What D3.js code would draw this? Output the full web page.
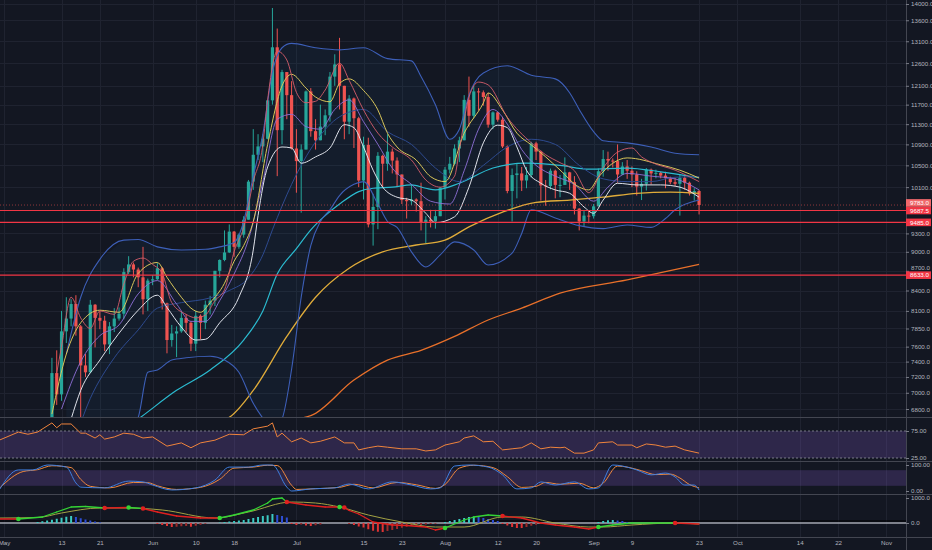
<!DOCTYPE html>
<html>
<head>
<meta charset="utf-8">
<script src="https://cdn.jsdelivr.net/npm/d3@7/dist/d3.min.js"></script>
<style>
  html, body { margin: 0; padding: 0; background: #131722; }
  svg { display: block; }
  text { font-family: "Liberation Sans", Arial, sans-serif; }
</style>
</head>
<body>
<div id="container"></div>
<script>
//-----------------------------[data]CANDLES------------------------------//
// daily candles, 11 May .. 23 Sep 2019 (one value per day, month per row)
const firstCandle = "05-11";
const lastCandle = "09-23";

const opens = [
  6350, 7250, 6980, 7810, 7990, 8200, 7880, 7350, 7260, 8190, 8000, 7960, 7630, 7880, 7990, 8060, 8680, 8800, 8720, 8600, 8270,
  8550, 8570, 8740, 8210, 7690, 7780, 7810, 8000, 7930, 7640, 8030, 7930, 8190, 8250, 8700, 8870, 8990, 9330, 9080, 9280, 9530, 10200, 10700, 10860, 11010, 11790, 12960, 11180, 12400, 11900,
  10820, 10580, 10800, 11980, 11160, 10980, 11250, 11480, 12300, 12570, 12100, 11350, 11830, 11420, 10220, 10890, 9450, 9750, 10680, 10530, 10760, 10590, 10330, 9870, 9850, 9880, 9850, 9480, 9530, 9500, 9590,
  10090, 10420, 10530, 10820, 10980, 11800, 11470, 11980, 11960, 11860, 11290, 11540, 11390, 10860, 10030, 10320, 10350, 10220, 10320, 10920, 10760, 10130, 10120, 10400, 10140, 10140, 10370, 10190, 9720, 9500, 9600,
  9590, 9760, 10390, 10620, 10590, 10580, 10330, 10480, 10400, 10330, 10110, 10160, 10420, 10350, 10360, 10310, 10260, 10190, 10160, 10270, 10180, 9990, 10030
];
const highs = [
  7450, 7550, 8100, 8300, 8270, 8330, 7900, 7500, 8260, 8200, 8100, 8030, 7940, 8140, 8150, 8740, 8930, 8830, 8750, 9080, 8580,
  8630, 8820, 8760, 8220, 7900, 7880, 8100, 8050, 7950, 8100, 8050, 8250, 8320, 8700, 8880, 9350, 9450, 9340, 9300, 9590, 10230, 11200, 11100, 11100, 11800, 13900, 13400, 12450, 12400, 12200,
  11200, 10900, 12000, 12050, 11400, 11700, 11600, 12400, 12800, 13180, 12100, 11900, 11850, 11450, 11050, 11030, 9980, 10750, 10700, 11100, 10820, 10650, 10330, 9910, 10150, 9900, 10180, 9590, 9700, 9700, 10100,
  10470, 10660, 10900, 11050, 11900, 12300, 12100, 12050, 12000, 11950, 11560, 11550, 11450, 10880, 10440, 10530, 10470, 10470, 10950, 10950, 10780, 10230, 10440, 10420, 10320, 10650, 10380, 10300, 9730, 9680, 9680,
  9800, 10440, 10790, 10760, 10630, 10900, 10560, 10600, 10480, 10390, 10250, 10450, 10440, 10420, 10380, 10380, 10290, 10270, 10320, 10300, 10200, 10080, 10050
];
const lows = [
  6340, 6850, 6900, 7650, 7880, 7750, 6600, 7200, 7250, 7590, 7840, 7540, 7500, 7800, 7960, 7980, 8650, 8600, 8450, 8050, 8100,
  8480, 8560, 8120, 7510, 7600, 7460, 7790, 7800, 7540, 7540, 7700, 7840, 8050, 8170, 8600, 8850, 8980, 8920, 9050, 9230, 9530, 10050, 10600, 10560, 11000, 11700, 10300, 10900, 11400, 10800,
  10000, 9650, 10800, 11050, 10800, 10980, 11080, 11350, 12100, 11600, 11000, 11100, 10830, 10100, 9880, 9400, 9100, 9370, 10100, 10400, 10350, 10100, 9800, 9550, 9780, 9670, 9350, 9140, 9400, 9380, 9590,
  9880, 10350, 10500, 10560, 10980, 11250, 11420, 11580, 11680, 11230, 11200, 11350, 10830, 9990, 9500, 9900, 10030, 10080, 10270, 10600, 9860, 9770, 10060, 9900, 9920, 10140, 10050, 9620, 9350, 9420, 9470,
  9550, 9760, 10290, 10400, 10460, 10180, 10320, 10250, 10100, 9950, 9870, 10040, 10150, 10260, 10260, 10080, 10150, 10120, 9600, 10050, 9950, 9860, 9620
];
const closes = [
  7250, 6980, 7810, 7990, 8200, 7880, 7350, 7260, 8190, 8000, 7960, 7630, 7880, 7990, 8060, 8680, 8800, 8720, 8600, 8270, 8550,
  8570, 8740, 8210, 7690, 7780, 7810, 8000, 7930, 7640, 8030, 7930, 8190, 8250, 8700, 8870, 8990, 9330, 9080, 9280, 9530, 10200, 10700, 10860, 11010, 11790, 12960, 11180, 12400, 11900, 10820,
  10580, 10800, 11980, 11160, 10980, 11250, 11480, 12300, 12570, 12100, 11350, 11830, 11420, 10220, 10890, 9450, 9750, 10680, 10530, 10760, 10590, 10330, 9870, 9850, 9880, 9850, 9480, 9530, 9500, 9590, 10090,
  10420, 10530, 10820, 10980, 11800, 11470, 11980, 11960, 11860, 11290, 11540, 11390, 10860, 10030, 10320, 10350, 10220, 10320, 10920, 10760, 10130, 10120, 10400, 10140, 10140, 10370, 10190, 9720, 9500, 9600, 9590,
  9760, 10390, 10620, 10590, 10580, 10330, 10480, 10400, 10330, 10110, 10160, 10420, 10350, 10360, 10310, 10260, 10190, 10160, 10270, 10180, 9990, 10030, 9783
];

//-----------------------------[data]OVERLAYS------------------------------//
// [day, price]
const bbUpper = [["05-14",7500],["05-17",8300],["05-21",8880],["05-26",9190],["05-29",9200],["06-02",9080],["06-07",9030],["06-12",9040],["06-15",9080],["06-18",9150],["06-20",9500],["06-22",10300],["06-24",11100],["06-26",12400],["06-28",12950],["06-30",13050],["07-05",12950],["07-10",12900],["07-15",12950],["07-20",12700],["07-25",12650],["07-27",12300],["07-30",11700],["08-02",11000],["08-04",11200],["08-06",11900],["08-09",12380],["08-14",12540],["08-19",12330],["08-24",12250],["08-27",11950],["08-29",11600],["09-01",11150],["09-03",10970],["09-08",10930],["09-13",10850],["09-18",10730],["09-23",10700]];
const bbLower = [["05-14",5600],["05-19",6000],["05-24",6350],["05-29",6700],["05-31",7260],["06-02",7290],["06-05",7420],["06-08",7450],["06-13",7470],["06-16",7420],["06-19",7260],["06-22",6870],["06-24",6690],["06-26",6550],["06-28",6680],["06-30",7300],["07-02",8300],["07-04",9100],["07-06",9500],["07-08",9700],["07-10",9950],["07-13",10150],["07-15",10200],["07-18",9800],["07-20",9500],["07-22",9400],["07-25",9000],["07-28",8760],["07-31",8950],["08-03",9160],["08-07",9030],["08-10",8790],["08-15",8980],["08-17",9300],["08-19",9700],["08-24",9560],["08-29",9430],["09-03",9380],["09-08",9440],["09-13",9400],["09-16",9550],["09-18",9700],["09-23",9870]];
const bbBasis = [["05-11",6100],["05-16",6500],["05-19",6930],["05-24",7450],["05-29",7830],["06-02",8140],["06-07",8220],["06-13",8290],["06-17",8400],["06-21",8590],["06-24",8950],["06-26",9360],["06-30",10150],["07-05",10950],["07-10",11450],["07-15",11600],["07-20",11150],["07-25",10900],["07-30",10450],["08-04",10200],["08-09",10500],["08-14",10850],["08-19",11000],["08-24",10900],["08-29",10500],["09-03",10250],["09-08",10200],["09-13",10200],["09-18",10280],["09-23",10290]];
const fastLine = [["05-12",7250],["05-13",7600],["05-15",8300],["05-17",8000],["05-19",7850],["05-21",8100],["05-24",8050],["05-26",8500],["05-28",8850],["05-30",8900],["06-01",8800],["06-03",8660],["06-05",8220],["06-08",8050],["06-10",8000],["06-12",8040],["06-14",8250],["06-16",8410],["06-18",9000],["06-20",9400],["06-22",10200],["06-24",10900],["06-25",11800],["06-27",12870],["06-29",12670],["07-01",11960],["07-03",11740],["07-05",11770],["07-07",12010],["07-10",12600],["07-12",12220],["07-15",11590],["07-18",11120],["07-21",10850],["07-25",10600],["07-28",10230],["07-31",10100],["08-03",10300],["08-04",10800],["08-06",11860],["08-08",12180],["08-10",12120],["08-14",11440],["08-19",10930],["08-22",10700],["08-25",10550],["08-28",10400],["08-31",10000],["09-03",10450],["09-06",10750],["09-09",10830],["09-11",10660],["09-13",10560],["09-18",10410],["09-23",10200]];
const yellowLine = [["05-11",6740],["05-14",7500],["05-17",7930],["05-21",8110],["05-25",8080],["05-29",8660],["06-02",8830],["06-04",8600],["06-07",8300],["06-09",8140],["06-11",8080],["06-13",8220],["06-16",8510],["06-18",8850],["06-20",9100],["06-22",9500],["06-25",10900],["06-28",12100],["06-30",12350],["07-03",12050],["07-05",11860],["07-08",11760],["07-10",12150],["07-12",12250],["07-15",12000],["07-18",11590],["07-20",11120],["07-22",10850],["07-26",10600],["07-29",10290],["08-01",10200],["08-05",11120],["08-09",11735],["08-10",11945],["08-13",11590],["08-16",11120],["08-19",10890],["08-22",10660],["08-25",10413],["08-29",10100],["08-31",10050],["09-02",10280],["09-05",10540],["09-08",10640],["09-15",10510],["09-19",10410],["09-23",10265]];
const whiteLine = [["05-15",6680],["05-17",7030],["05-21",7420],["05-26",7870],["05-29",8110],["06-02",8330],["06-04",8150],["06-07",7870],["06-10",7690],["06-12",7700],["06-15",7930],["06-19",8300],["06-22",9030],["06-23",9600],["06-25",10470],["06-28",10850],["06-30",10830],["07-02",10540],["07-05",10660],["07-08",10830],["07-11",11290],["07-13",11230],["07-15",10850],["07-17",10410],["07-19",10100],["07-22",9920],["07-25",9870],["07-28",9640],["07-30",9480],["08-03",9580],["08-06",10100],["08-09",10930],["08-12",11280],["08-14",11230],["08-16",10850],["08-18",10410],["08-21",10170],["08-24",10050],["08-27",9990],["08-30",9750],["09-01",9640],["09-03",9870],["09-06",10170],["09-10",10140],["09-15",10140],["09-19",10100],["09-23",9920]];
const purpleLine = [["05-13",6800],["05-17",7400],["05-21",7750],["05-25",7900],["05-29",8350],["06-02",8550],["06-06",8200],["06-09",7950],["06-12",7950],["06-15",8250],["06-18",8650],["06-21",9200],["06-24",10200],["06-27",11400],["06-30",11500],["07-03",11250],["07-06",11200],["07-09",11600],["07-12",11800],["07-15",11350],["07-18",10900],["07-21",10450],["07-25",10150],["07-29",9850],["08-02",9800],["08-05",10400],["08-08",11200],["08-11",11600],["08-14",11300],["08-17",10800],["08-20",10500],["08-24",10300],["08-28",10150],["09-01",9850],["09-04",10100],["09-08",10350],["09-13",10300],["09-18",10250],["09-23",10050]];
const cyanLine = [["05-27",6600],["05-29",6680],["06-06",7030],["06-13",7290],["06-20",7690],["06-24",8100],["06-27",8650],["07-01",9050],["07-04",9360],["07-07",9600],["07-10",9800],["07-14",10020],["07-17",10080],["07-21",10100],["07-25",10140],["07-28",10080],["07-30",10050],["08-04",10170],["08-11",10450],["08-18",10540],["08-25",10500],["08-31",10430],["09-08",10450],["09-15",10380],["09-23",10270]];
const goldLine = [["06-15",6650],["06-17",6700],["06-22",7030],["06-29",7740],["07-05",8300],["07-12",8740],["07-19",9000],["07-26",9110],["08-01",9190],["08-06",9410],["08-13",9660],["08-20",9830],["08-27",9870],["09-03",9920],["09-10",9990],["09-17",10010],["09-23",9990]];
const orangeLine = [["07-02",6690],["07-04",6720],["07-13",7160],["07-20",7420],["07-27",7550],["08-03",7740],["08-10",7970],["08-17",8140],["08-25",8360],["09-08",8560],["09-23",8800]];

// horizontal levels drawn on the chart
const levelPrices = [9687.5, 9485, 8633];

//-----------------------------[data]OSCILLATORS------------------------------//
const rsi = [["04-30",58],["05-04",73],["05-06",69],["05-08",73],["05-11",90],["05-12",81],["05-13",88],["05-15",88],["05-17",71],["05-18",71],["05-20",62],["05-21",68],["05-22",60],["05-24",64],["05-26",71],["05-28",69],["05-30",62],["06-01",64],["06-04",47],["06-07",53],["06-09",44],["06-11",53],["06-14",58],["06-17",69],["06-20",68],["06-22",79],["06-25",84],["06-26",90],["06-27",64],["06-28",71],["06-30",55],["07-02",62],["07-04",53],["07-06",56],["07-09",64],["07-11",53],["07-13",53],["07-14",40],["07-16",44],["07-18",47],["07-20",45],["07-23",42],["07-26",42],["07-28",38],["07-30",40],["08-01",49],["08-04",55],["08-05",62],["08-07",66],["08-09",55],["08-11",56],["08-13",40],["08-15",42],["08-17",44],["08-19",53],["08-21",42],["08-23",45],["08-25",44],["08-26",45],["08-28",34],["08-30",34],["09-01",40],["09-02",53],["09-05",55],["09-06",49],["09-09",49],["09-10",44],["09-12",51],["09-14",49],["09-16",45],["09-18",47],["09-20",40],["09-23",34]];
const stochK = [["04-30",4],["05-04",81],["05-07",81],["05-10",100],["05-14",92],["05-16",31],["05-17",15],["05-22",12],["05-27",38],["05-30",35],["06-01",23],["06-05",4],["06-10",12],["06-14",42],["06-17",92],["06-21",92],["06-24",100],["06-26",100],["06-29",15],["06-30",0],["07-04",8],["07-09",12],["07-12",27],["07-16",8],["07-21",35],["07-25",23],["07-29",8],["07-31",12],["08-03",96],["08-06",100],["08-10",92],["08-13",62],["08-16",8],["08-19",12],["08-21",35],["08-24",23],["08-28",35],["08-31",8],["09-02",12],["09-05",100],["09-07",96],["09-10",81],["09-13",62],["09-16",69],["09-18",54],["09-20",23],["09-22",23],["09-23",4]];
const stochD = [["04-30",10],["05-05",75],["05-08",82],["05-11",97],["05-15",90],["05-17",45],["05-19",18],["05-23",12],["05-28",33],["05-31",32],["06-02",20],["06-06",6],["06-11",14],["06-15",45],["06-18",88],["06-22",92],["06-25",99],["06-27",98],["06-30",22],["07-01",6],["07-05",9],["07-10",14],["07-13",26],["07-17",12],["07-22",33],["07-26",24],["07-30",10],["08-01",25],["08-04",88],["08-07",99],["08-11",90],["08-14",55],["08-17",14],["08-20",18],["08-22",33],["08-25",26],["08-29",30],["09-01",12],["09-03",30],["09-06",96],["09-08",92],["09-11",78],["09-14",63],["09-17",65],["09-19",50],["09-21",25],["09-23",12]];
const macdLine = [["04-30",160],["05-09",240],["05-12",440],["05-15",640],["05-18",660],["06-02",440],["06-06",280],["06-11",200],["06-18",320],["06-22",520],["06-25",800],["06-26",960],["06-28",1000],["07-03",720],["07-07",640],["07-12",500],["07-14",360],["07-17",40],["07-21",-80],["07-24",-100],["07-28",-160],["07-30",-280],["08-05",120],["08-07",240],["08-10",320],["08-17",200],["08-21",0],["08-24",-80],["08-28",-160],["08-31",-240],["09-05",-80],["09-09",0],["09-13",0],["09-23",-40]];
const signalLine = [["04-30",200],["05-08",220],["05-13",400],["05-21",600],["05-27",600],["06-03",520],["06-14",200],["06-21",440],["06-30",840],["07-05",800],["07-10",640],["07-16",320],["07-23",40],["07-30",-160],["08-05",-160],["08-13",240],["08-17",240],["08-24",0],["08-31",-160],["09-03",-160],["09-09",-80],["09-18",0],["09-23",-40]];
const crossDays = ["05-04","05-22","05-27","05-30","06-15","06-29","07-10","07-11","08-01","08-13","09-02","09-18"];
const crossValues = [160, 600, 620, 580, 200, 840, 640, 620, -200, 280, -160, 0];
const crossKinds = ["up","down","up","down","up","down","up","down","up","down","up","down"];
const macdHist = [["05-08",40],["05-09",70],["05-10",100],["05-11",130],["05-12",170],["05-13",210],["05-14",250],["05-15",280],["05-16",240],["05-17",190],["05-18",140],["05-19",100],["05-20",60],["05-21",30],
  ["06-02",-40],["06-03",-80],["06-04",-120],["06-05",-160],["06-06",-150],["06-07",-130],["06-08",-120],["06-09",-150],["06-10",-110],["06-11",-70],["06-12",-30],
  ["06-15",20],["06-16",40],["06-17",60],["06-18",80],["06-19",100],["06-20",120],["06-21",160],["06-22",200],["06-23",240],["06-24",280],["06-25",310],["06-26",360],["06-27",320],["06-28",280],["06-29",220],
  ["06-30",-40],["07-01",-80],["07-02",-60],["07-03",-100],["07-04",-120],["07-05",-90],["07-06",-60],
  ["07-12",-40],["07-13",-80],["07-14",-140],["07-15",-180],["07-16",-250],["07-17",-310],["07-18",-350],["07-19",-360],["07-20",-320],["07-21",-280],["07-22",-240],["07-23",-190],["07-24",-150],["07-25",-120],["07-26",-100],["07-27",-80],["07-28",-60],["07-29",-40],["07-30",-30],
  ["08-01",40],["08-02",80],["08-03",120],["08-04",160],["08-05",200],["08-06",240],["08-07",260],["08-08",240],["08-09",200],["08-10",160],["08-11",120],["08-12",80],
  ["08-13",-40],["08-14",-100],["08-15",-160],["08-16",-200],["08-17",-200],["08-18",-160],["08-19",-110],["08-20",-70],["08-21",-40],
  ["09-02",40],["09-03",80],["09-04",110],["09-05",120],["09-06",100],["09-07",80],["09-08",40]];

//-----------------------------[data]AXES------------------------------//
const priceTicks = [14000, 13600, 13100, 12600, 12100, 11700, 11300, 10900, 10500, 10100, 9700, 9300, 9000, 8700, 8400, 8100, 7850, 7600, 7400, 7200, 7000, 6800];
const xTickDays = ["05-01","05-13","05-21","06-01","06-10","06-18","07-01","07-15","07-23","08-01","08-12","08-20","09-01","09-09","09-23","10-01","10-14","10-22","11-01"];
const xTickLabels = ["May","13","21","Jun","10","18","Jul","15","23","Aug","12","20","Sep","9","23","Oct","14","22","Nov"];

//-----------------------------[prep]SVG------------------------------//
const width = 932;
const height = 550;
const plotRight = 906;
const panels = { main: [0, 417], rsi: [417, 461], stoch: [461, 494], macd: [494, 537] };
const fontSize = 6.2;

const parseDay = d3.timeParse("%Y-%m-%d");
const day = s => parseDay("2019-" + s);
const toPoints = arr => arr.map(p => ({ date: day(p[0]), value: p[1] }));

const svg = d3.select("#container").append("svg")
  .attr("width", width)
  .attr("height", height);

svg.append("rect").attr("width", width).attr("height", height).attr("fill", "#131722");

const defs = svg.append("defs");
Object.keys(panels).forEach(k => {
  const [y0, y1] = panels[k];
  defs.append("clipPath").attr("id", "plot-" + k).append("rect")
    .attr("x", 0).attr("y", y0).attr("width", plotRight).attr("height", y1 - y0);
  defs.append("clipPath").attr("id", "axis-" + k).append("rect")
    .attr("x", plotRight).attr("y", y0).attr("width", width - plotRight).attr("height", y1 - y0);
});

//----------------------------[prep]SCALES-----------------------------//
const x = d3.scaleTime().domain([day("05-01"), day("11-01")]).range([4, 886]);
const y = d3.scaleLog().domain([6704, 14100]).range([417, 0]);
const yRsi = d3.scaleLinear().domain([0, 100]).range([471.5, 417.5]);
const yStoch = d3.scaleLinear().domain([0, 100]).range([491, 465]);
const yMacd = d3.scaleLinear().domain([0, 1000]).range([523, 498]);

const candleDays = d3.timeDay.range(day(firstCandle), d3.timeDay.offset(day(lastCandle), 1));
const candles = candleDays.map((d, i) => ({
  date: d, open: opens[i], high: highs[i], low: lows[i], close: closes[i]
}));

const upColor = "#26a69a";
const downColor = "#ef5350";

function drawLine(g, data, yScale, color, w, curve) {
  const line = d3.line()
    .x(d => x(d.date))
    .y(d => yScale(d.value))
    .curve(curve || d3.curveMonotoneX);
  g.append("path")
    .attr("d", line(toPoints(data)))
    .attr("fill", "none")
    .attr("stroke", color)
    .attr("stroke-width", w);
}

//-----------------------------[drawing]GRID------------------------------//
const grid = svg.append("g").attr("shape-rendering", "crispEdges");
grid.selectAll(".vgrid").data(xTickDays).enter().append("line")
  .attr("x1", d => Math.round(x(day(d))) + 0.5).attr("x2", d => Math.round(x(day(d))) + 0.5)
  .attr("y1", 0).attr("y2", 537)
  .attr("stroke", "#1f2330");
grid.append("g").attr("clip-path", "url(#plot-main)")
  .selectAll(".hgrid").data(priceTicks).enter().append("line")
  .attr("x1", 0).attr("x2", plotRight)
  .attr("y1", d => Math.round(y(d)) + 0.5).attr("y2", d => Math.round(y(d)) + 0.5)
  .attr("stroke", "#1f2330");

//-----------------------------[drawing]MAIN------------------------------//
const main = svg.append("g").attr("clip-path", "url(#plot-main)");

// bollinger cloud
const cloud = toPoints(bbUpper).concat(toPoints(bbLower).reverse());
main.append("path")
  .attr("d", d3.line().x(d => x(d.date)).y(d => y(d.value))(cloud) + "Z")
  .attr("fill", "#2196f3")
  .attr("fill-opacity", 0.05);

// candles
const candleG = main.append("g").selectAll("g").data(candles).enter().append("g");
candleG.append("line")
  .attr("x1", d => x(d.date)).attr("x2", d => x(d.date))
  .attr("y1", d => y(d.high)).attr("y2", d => y(d.low))
  .attr("stroke", d => d.close >= d.open ? upColor : downColor)
  .attr("stroke-width", 1);
candleG.append("rect")
  .attr("x", d => x(d.date) - 1.6)
  .attr("width", 3.2)
  .attr("y", d => y(Math.max(d.open, d.close)))
  .attr("height", d => Math.max(1, Math.abs(y(d.open) - y(d.close))))
  .attr("fill", d => d.close >= d.open ? upColor : downColor);

// moving averages and bands
drawLine(main, orangeLine, y, "#e8702a", 1.3);
drawLine(main, goldLine, y, "#e0ac3a", 1.3);
drawLine(main, cyanLine, y, "#2bbbd0", 1.2);
drawLine(main, bbUpper, y, "#3d5fb8", 1.1);
drawLine(main, bbLower, y, "#3d5fb8", 1.1);
drawLine(main, bbBasis, y, "#2d4a8f", 1);
drawLine(main, purpleLine, y, "#8f6fd8", 0.9);
drawLine(main, whiteLine, y, "#e0e3eb", 1);
drawLine(main, yellowLine, y, "#d9c65a", 1);
drawLine(main, fastLine, y, "#d65d6b", 0.9);

// horizontal levels and last price
main.selectAll(".level").data(levelPrices).enter().append("line")
  .attr("x1", 0).attr("x2", plotRight)
  .attr("y1", d => y(d)).attr("y2", d => y(d))
  .attr("stroke", "#f23645").attr("stroke-width", 1.2);
main.append("line")
  .attr("x1", 0).attr("x2", plotRight)
  .attr("y1", y(closes[closes.length - 1])).attr("y2", y(closes[closes.length - 1]))
  .attr("stroke", downColor).attr("stroke-width", 0.8)
  .attr("stroke-dasharray", "1,2").attr("opacity", 0.7);

//-----------------------------[drawing]RSI------------------------------//
const rsiG = svg.append("g").attr("clip-path", "url(#plot-rsi)");
rsiG.append("rect")
  .attr("x", 0).attr("width", plotRight)
  .attr("y", yRsi(75)).attr("height", yRsi(25) - yRsi(75))
  .attr("fill", "#7e57c2").attr("fill-opacity", 0.25);
rsiG.selectAll(".band").data([75, 25]).enter().append("line")
  .attr("x1", 0).attr("x2", plotRight)
  .attr("y1", d => yRsi(d)).attr("y2", d => yRsi(d))
  .attr("stroke", "#787b86").attr("stroke-dasharray", "2,2");
drawLine(rsiG, rsi, yRsi, "#f0843c", 1, d3.curveLinear);

//-----------------------------[drawing]STOCH------------------------------//
const stochG = svg.append("g").attr("clip-path", "url(#plot-stoch)");
stochG.append("rect")
  .attr("x", 0).attr("width", plotRight)
  .attr("y", yStoch(80)).attr("height", yStoch(20) - yStoch(80))
  .attr("fill", "#7e57c2").attr("fill-opacity", 0.25);
drawLine(stochG, stochD, yStoch, "#f0883e", 1, d3.curveMonotoneX);
drawLine(stochG, stochK, yStoch, "#3f7fe0", 1, d3.curveMonotoneX);

//-----------------------------[drawing]MACD------------------------------//
const macdG = svg.append("g").attr("clip-path", "url(#plot-macd)");
macdG.append("line")
  .attr("x1", 0).attr("x2", plotRight)
  .attr("y1", yMacd(80)).attr("y2", yMacd(80))
  .attr("stroke", "#000").attr("stroke-width", 1);
macdG.append("line")
  .attr("x1", 0).attr("x2", plotRight)
  .attr("y1", yMacd(0)).attr("y2", yMacd(0))
  .attr("stroke", "#a3a6af").attr("stroke-width", 1.4);

const histPts = toPoints(macdHist);
macdG.selectAll(".hist").data(histPts).enter().append("rect")
  .attr("x", d => x(d.date) - 1)
  .attr("width", 2)
  .attr("y", d => Math.min(yMacd(d.value), yMacd(0)))
  .attr("height", d => Math.abs(yMacd(d.value) - yMacd(0)))
  .attr("fill", (d, i) => {
    const prev = i > 0 ? histPts[i - 1].value : 0;
    if (d.value >= 0) return d.value >= prev ? "#3cc9c2" : "#2e4fd6";
    return d.value <= prev ? "#e03333" : "#9e2a2a";
  });

drawLine(macdG, signalLine, yMacd, "#a3a243", 1, d3.curveMonotoneX);

// macd line, coloured by the last crossing
const crosses = crossDays.map((d, i) => ({ date: day(d), value: crossValues[i], kind: crossKinds[i] }));
const macdAll = toPoints(macdLine).concat(crosses).sort((a, b) => a.date - b.date);
let state = "down";
for (let i = 1; i < macdAll.length; i++) {
  if (macdAll[i - 1].kind) state = macdAll[i - 1].kind;
  macdG.append("line")
    .attr("x1", x(macdAll[i - 1].date)).attr("y1", yMacd(macdAll[i - 1].value))
    .attr("x2", x(macdAll[i].date)).attr("y2", yMacd(macdAll[i].value))
    .attr("stroke", state === "up" ? "#35d435" : "#e0201f")
    .attr("stroke-width", 1.3)
    .attr("stroke-linecap", "round");
}
macdG.selectAll(".cross").data(crosses).enter().append("circle")
  .attr("cx", d => x(d.date)).attr("cy", d => yMacd(d.value))
  .attr("r", 2.3)
  .attr("fill", d => d.kind === "up" ? "#35d435" : "#e0201f");

//-----------------------------[drawing]SEPARATORS------------------------------//
const seps = svg.append("g").attr("shape-rendering", "crispEdges");
seps.selectAll(".sep").data([417, 461, 494, 537]).enter().append("line")
  .attr("x1", 0).attr("x2", width)
  .attr("y1", d => d + 0.5).attr("y2", d => d + 0.5)
  .attr("stroke", "#434651");
seps.append("line")
  .attr("x1", plotRight + 0.5).attr("x2", plotRight + 0.5)
  .attr("y1", 0).attr("y2", height)
  .attr("stroke", "#434651");

//-----------------------------[prep]PRICE TAGS------------------------------//
// tags on the scale, pushed apart when they overlap
const tagH = 7.6;
const tags = [{ value: closes[closes.length - 1], color: "#f0686a" }]
  .concat(levelPrices.map(v => ({ value: v, color: "#f23645" })))
  .map(t => Object.assign(t, { cy: y(t.value) }))
  .sort((a, b) => b.cy - a.cy);
for (let i = 1; i < tags.length; i++) {
  if (tags[i - 1].cy - tags[i].cy < tagH) tags[i].cy = tags[i - 1].cy - tagH;
}

//-----------------------------[drawing]AXES------------------------------//
function styleAxis(g) {
  g.select(".domain").remove();
  g.selectAll(".tick line").attr("stroke", "#787b86");
  g.selectAll(".tick text")
    .attr("fill", "#b2b5be")
    .style("font-size", fontSize + "px")
    .style("font-family", "'Liberation Sans', Arial, sans-serif");
}

function rightAxis(panel, scale, ticks, fmt) {
  return svg.append("g").attr("clip-path", "url(#axis-" + panel + ")")
    .append("g")
    .attr("transform", "translate(" + plotRight + ",0)")
    .call(d3.axisRight(scale).tickValues(ticks).tickFormat(d3.format(fmt)).tickSize(3).tickPadding(2))
    .call(styleAxis);
}

const priceAxisG = rightAxis("main", y, priceTicks, ".1f");
rightAxis("rsi", yRsi, [75, 25], ".2f");
rightAxis("stoch", yStoch, [100, 0], ".2f");
rightAxis("macd", yMacd, [1000, 0], ".1f");

// tick labels sitting under a tag: hidden when covered, lifted clear when only grazed
const half = fontSize / 2;
priceAxisG.selectAll(".tick").each(function (d) {
  const ty = y(d);
  const tick = d3.select(this);
  tags.forEach(t => {
    const top = t.cy - tagH / 2, bottom = t.cy + tagH / 2;
    if (ty + half > top && ty - half < bottom) {
      if (ty >= top) tick.remove();
      else tick.select("text").attr("y", -((ty + half) - top + 0.4));
    }
  });
});

svg.append("g")
  .attr("transform", "translate(0,537)")
  .call(d3.axisBottom(x)
    .tickValues(xTickDays.map(day))
    .tickFormat((d, i) => xTickLabels[i])
    .tickSize(0)
    .tickPadding(4))
  .call(styleAxis);

const tagG = svg.append("g").selectAll("g").data(tags).enter().append("g");
tagG.append("rect")
  .attr("x", plotRight).attr("width", width - plotRight - 1)
  .attr("y", d => d.cy - tagH / 2).attr("height", tagH)
  .attr("fill", d => d.color);
tagG.append("text")
  .attr("x", plotRight + 4).attr("y", d => d.cy)
  .attr("dy", "0.35em")
  .attr("fill", "#ffffff")
  .style("font-size", fontSize + "px")
  .text(d => d3.format(".1f")(d.value));
</script>
</body>
</html>
